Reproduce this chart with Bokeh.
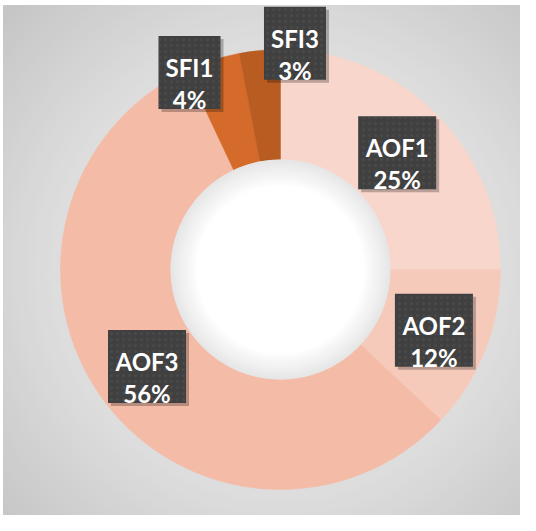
import math
from bokeh.plotting import figure
from bokeh.models import ColumnDataSource
from bokeh.core.properties import value
from bokeh.embed import file_html
from bokeh.resources import INLINE

# ---- data ----
categories = ["AOF1", "AOF2", "AOF3", "SFI1", "SFI3"]
values = [25, 12, 56, 4, 3]
pct_labels = ["25%", "12%", "56%", "4%", "3%"]

# ---- styles ----
colors = ["#F8D6CB", "#F6CABB", "#F4BBA6", "#D46B2A", "#B85C22"]
box_widths = {"AOF1": 78, "AOF2": 78, "AOF3": 78, "SFI1": 62, "SFI3": 62}
label_shift = {"SFI1": (-40, 40), "SFI3": (30, 62)}
OUTER_R, INNER_R, LABEL_R = 220, 110, 165

p = figure(width=520, height=515, x_range=(-277, 240), y_range=(-246, 264),
           output_backend="svg", toolbar_location=None,
           x_axis_location=None, y_axis_location=None,
           min_border_left=3, min_border_top=5, min_border_right=0, min_border_bottom=0)
p.grid.visible = False
p.background_fill_color = "#c4c4c4"
p.border_fill_color = "white"
p.outline_line_color = "#dcdcdc"


def mix(c1, c2, t):
    t = max(0.0, min(1.0, t))
    r = int(round(c1[0] + (c2[0] - c1[0]) * t))
    g = int(round(c1[1] + (c2[1] - c1[1]) * t))
    b = int(round(c1[2] + (c2[2] - c1[2]) * t))
    return "#%02x%02x%02x" % (r, g, b)


# background radial gradient (decoration)
rs, cs = [], []
r = 400
while r > 0:
    if r > 230:
        col = mix((221, 221, 221), (196, 196, 196), (r - 230) / 160)
    else:
        col = mix((238, 238, 238), (221, 221, 221), r / 230)
    rs.append(r)
    cs.append(col)
    r -= 5
p.circle(x=[0] * len(rs), y=[0] * len(rs), radius=rs, fill_color=cs, line_color=None)

# ring
total = float(sum(values))
starts, ends, mids = [], [], []
acc = 0.0
for v in values:
    s = acc / total
    acc += v
    e = acc / total
    starts.append(math.pi / 2 - 2 * math.pi * s)
    ends.append(math.pi / 2 - 2 * math.pi * e)
    mids.append(math.pi / 2 - 2 * math.pi * (s + e) / 2)

src = ColumnDataSource(dict(cat=categories, val=values, start=starts, end=ends, color=colors))
p.annular_wedge(x=0, y=0, inner_radius=INNER_R, outer_radius=OUTER_R,
                start_angle="start", end_angle="end", direction="clock",
                fill_color="color", line_color="color", line_width=0.5, source=src)

# hole with soft inner shading
hr, hc = [], []
r = INNER_R
while r > 0:
    hr.append(r)
    hc.append(mix((255, 255, 255), (230, 230, 230), (r - 84) / 26))
    r -= 2
p.circle(x=[0] * len(hr), y=[0] * len(hr), radius=hr, fill_color=hc, line_color=None)

# labels
lx, ly, lw, shx, shy = [], [], [], [], []
for cat, a in zip(categories, mids):
    dx, dy = label_shift.get(cat, (0, 0))
    x = LABEL_R * math.cos(a) + dx
    y = LABEL_R * math.sin(a) + dy
    lx.append(x)
    ly.append(y)
    lw.append(box_widths[cat])
    shx.append(x + 3)
    shy.append(y - 3)

lsrc = ColumnDataSource(dict(x=lx, y=ly, w=lw, sx=shx, sy=shy,
                             name=categories, pct=pct_labels,
                             ny=[y + 5 for y in ly], py=[y - 27 for y in ly]))
p.rect(x="sx", y="sy", width="w", height=73, fill_color="black", fill_alpha=0.25,
       line_color=None, source=lsrc)
p.rect(x="x", y="y", width="w", height=73, fill_color="#404040", line_color=None,
       hatch_pattern="dot", hatch_color="#5c5c5c", hatch_alpha=0.35, hatch_scale=6,
       hatch_weight=1, source=lsrc)
p.text(x="x", y="ny", text="name", text_font=value("Lato"), text_font_style="bold",
       text_font_size="24px", text_color="white", text_align="center",
       text_baseline="alphabetic", source=lsrc)
p.text(x="x", y="py", text="pct", text_font=value("Lato"), text_font_style="bold",
       text_font_size="24px", text_color="white", text_align="center",
       text_baseline="alphabetic", source=lsrc)

open("out.html", "w").write(file_html(p, INLINE))
